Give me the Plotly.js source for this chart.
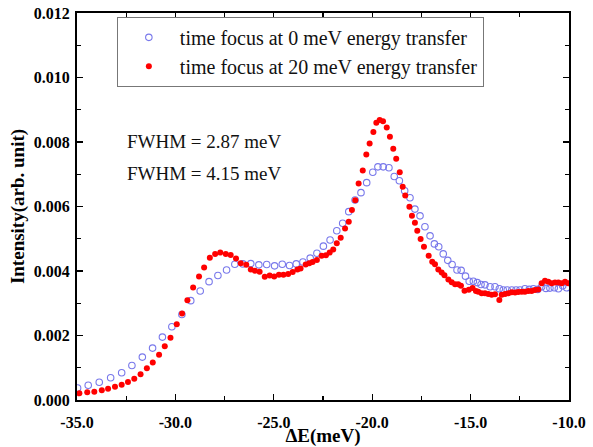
<!DOCTYPE html>
<html>
<head>
<meta charset="utf-8">
<script src="https://cdn.plot.ly/plotly-3.0.1.min.js"></script>
<style>html,body{margin:0;padding:0;background:#fff;}#chart{width:593px;height:447px;}</style>
</head>
<body>
<div id="chart"></div>
<script>
// Series: time focus at 0 meV energy transfer (open blue circles)
const blueE = [-34.97,-34.43,-33.87,-33.29,-32.73,-32.21,-31.68,-31.16,-30.66,-30.18,-29.67,-29.22,-28.74,-28.29,-27.84,-27.40,-26.98,-26.57,-26.17,-25.76,-25.36,-24.96,-24.57,-24.20,-23.86,-23.52,-23.15,-22.81,-22.48,-22.14,-21.80,-21.50,-21.19,-20.87,-20.57,-20.28,-19.97,-19.71,-19.44,-19.15,-18.88,-18.62,-18.35,-18.08,-17.83,-17.57,-17.32,-17.06,-16.84,-16.62,-16.39,-16.16,-15.94,-15.69,-15.48,-15.26,-15.07,-14.86,-14.66,-14.47,-14.27,-14.01,-13.76,-13.54,-13.34,-13.14,-12.91,-12.69,-12.49,-12.24,-12.02,-11.81,-11.59,-11.39,-11.17,-10.97,-10.75,-10.54,-10.32,-10.12];
const blueI = [0.000372,0.000459,0.000549,0.000688,0.000847,0.00107,0.00133,0.00161,0.00195,0.00227,0.00265,0.00308,0.00338,0.00367,0.00386,0.00403,0.00421,0.00422,0.00423,0.00419,0.00420,0.00416,0.00421,0.00417,0.00422,0.00428,0.00440,0.00455,0.00477,0.00496,0.00525,0.00548,0.00584,0.00620,0.00643,0.00674,0.00706,0.00723,0.00723,0.00720,0.00693,0.00680,0.00649,0.00627,0.00592,0.00571,0.00537,0.00509,0.00484,0.00475,0.00453,0.00433,0.00420,0.00403,0.00402,0.00384,0.00368,0.00368,0.00364,0.00358,0.00357,0.00351,0.00351,0.00345,0.00341,0.00341,0.00341,0.00341,0.00341,0.00345,0.00343,0.00345,0.00343,0.00351,0.00346,0.00347,0.00348,0.00345,0.00354,0.00348];

// Series: time focus at 20 meV energy transfer (filled red circles)
const redE = [-34.88,-34.48,-34.12,-33.74,-33.42,-33.07,-32.73,-32.41,-32.09,-31.77,-31.45,-31.15,-30.83,-30.54,-30.25,-29.93,-29.66,-29.39,-29.10,-28.80,-28.54,-28.25,-27.98,-27.72,-27.44,-27.19,-26.92,-26.68,-26.40,-26.17,-25.96,-25.72,-25.46,-25.21,-24.98,-24.74,-24.51,-24.27,-24.04,-23.80,-23.64,-23.38,-23.20,-23.03,-22.81,-22.57,-22.35,-22.16,-21.98,-21.80,-21.60,-21.38,-21.19,-21.03,-20.86,-20.69,-20.48,-20.30,-20.13,-19.94,-19.79,-19.62,-19.45,-19.26,-19.10,-18.93,-18.78,-18.60,-18.45,-18.32,-18.11,-17.98,-17.83,-17.71,-17.54,-17.37,-17.13,-16.95,-16.81,-16.64,-16.47,-16.33,-16.13,-15.96,-15.79,-15.63,-15.49,-15.31,-15.09,-14.90,-14.73,-14.61,-14.44,-14.27,-14.10,-13.93,-13.76,-13.54,-13.42,-13.25,-13.08,-12.91,-12.74,-12.58,-12.40,-12.24,-12.07,-11.90,-11.73,-11.56,-11.39,-11.22,-11.05,-10.88,-10.71,-10.54,-10.37,-10.20,-10.04];
const redI = [0.000208,0.000239,0.000254,0.000301,0.000347,0.000412,0.000474,0.000558,0.000661,0.000800,0.000983,0.00116,0.00140,0.00167,0.00193,0.00235,0.00268,0.00309,0.00349,0.00383,0.00411,0.00441,0.00453,0.00457,0.00453,0.00450,0.00439,0.00424,0.00419,0.00405,0.00401,0.00398,0.00382,0.00386,0.00383,0.00388,0.00388,0.00391,0.00397,0.00405,0.00408,0.00420,0.00424,0.00428,0.00434,0.00447,0.00449,0.00457,0.00467,0.00486,0.00503,0.00532,0.00553,0.00589,0.00619,0.00671,0.00712,0.00761,0.00795,0.00831,0.00860,0.00868,0.00864,0.00845,0.00816,0.00779,0.00748,0.00706,0.00661,0.00634,0.00599,0.00571,0.00550,0.00525,0.00499,0.00475,0.00447,0.00429,0.00421,0.00405,0.00395,0.00387,0.00374,0.00365,0.00359,0.00359,0.00354,0.00339,0.00342,0.00347,0.00338,0.00336,0.00331,0.00331,0.00329,0.00326,0.00328,0.00310,0.00326,0.00329,0.00331,0.00334,0.00333,0.00335,0.00336,0.00336,0.00338,0.00338,0.00341,0.00343,0.00362,0.00370,0.00367,0.00362,0.00364,0.00364,0.00362,0.00367,0.00362];

const seriesNames = ["time focus at 0 meV energy transfer", "time focus at 20 meV energy transfer"];
const xTickVals = [-35, -30, -25, -20, -15, -10];
const xTickText = ["-35.0", "-30.0", "-25.0", "-20.0", "-15.0", "-10.0"];
const yTickVals = [0, 0.002, 0.004, 0.006, 0.008, 0.010, 0.012];
const yTickText = ["0.000", "0.002", "0.004", "0.006", "0.008", "0.010", "0.012"];
const fwhmLabels = ["FWHM = 2.87 meV", "FWHM = 4.15 meV"];

const serif = "Liberation Serif, Times New Roman, serif";

const traces = [
  {
    x: blueE, y: blueI, type: "scatter", mode: "markers", name: seriesNames[0],
    marker: {symbol: "circle-open", size: 6.5, color: "rgb(120,120,235)", line: {width: 1.1, color: "rgb(120,120,235)"}}
  },
  {
    x: redE, y: redI, type: "scatter", mode: "markers", name: seriesNames[1],
    marker: {symbol: "circle", size: 6, color: "rgb(255,0,0)"}
  }
];

const axisCommon = {
  showgrid: false, zeroline: false, showline: true, linecolor: "#000", linewidth: 2,
  mirror: "ticks", ticks: "inside", ticklen: 6, tickwidth: 1.3, tickcolor: "#000",
  tickfont: {family: serif, size: 16, weight: "bold", color: "#000"}
};

const layout = {
  width: 593, height: 447,
  margin: {l: 77, r: 24, t: 13, b: 47},
  paper_bgcolor: "#fff", plot_bgcolor: "#fff",
  showlegend: true,
  legend: {
    x: 0.081, y: 0.99, xanchor: "left", yanchor: "top",
    bgcolor: "#fff", bordercolor: "#777", borderwidth: 1,
    font: {family: serif, size: 20, color: "#111"},
    itemwidth: 52, tracegroupgap: 0
  },
  xaxis: Object.assign({}, axisCommon, {
    range: [-35, -10], tickvals: xTickVals, ticktext: xTickText, ticklabelstandoff: 7,
    minor: {dtick: 2.5, ticks: "inside", ticklen: 4, tickcolor: "#000", tickwidth: 1.2},
    title: {text: "ΔE(meV)", font: {family: serif, size: 19, weight: "bold", color: "#000"}, standoff: 1}
  }),
  yaxis: Object.assign({}, axisCommon, {
    range: [0, 0.012], tickvals: yTickVals, ticktext: yTickText, ticklabelstandoff: 2,
    minor: {dtick: 0.001, ticks: "inside", ticklen: 4, tickcolor: "#000", tickwidth: 1.2},
    title: {text: "Intensity(arb. unit)", font: {family: serif, size: 19, weight: "bold", color: "#000"}, standoff: 4}
  }),
  annotations: [
    {xref: "paper", yref: "paper", x: 0.0976, y: 0.669, xanchor: "left", yanchor: "middle", showarrow: false,
     text: fwhmLabels[0], font: {family: serif, size: 19, color: "#111"}},
    {xref: "paper", yref: "paper", x: 0.0976, y: 0.584, xanchor: "left", yanchor: "middle", showarrow: false,
     text: fwhmLabels[1], font: {family: serif, size: 19, color: "#111"}}
  ]
};

Plotly.newPlot("chart", traces, layout, {displayModeBar: false, staticPlot: true});
</script>
</body>
</html>
